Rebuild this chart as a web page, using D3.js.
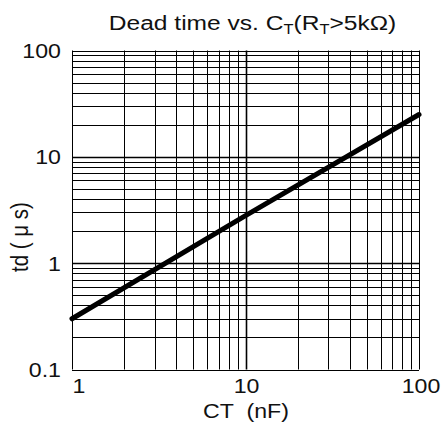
<!DOCTYPE html>
<html><head><meta charset="utf-8">
<script src="https://cdn.jsdelivr.net/npm/d3@7"></script>
<style>body{margin:0;background:#fff}svg{display:block;font-family:"Liberation Sans",Arial,sans-serif}</style>
</head><body>
<svg id="c" width="442" height="428"></svg>
<script>
const ctValues = [1, 10, 100];          // CT (nF)
const tdValues = [0.3, 2.8, 25];        // td (µs)
const xTicks = [1, 10, 100];
const yTicks = [0.1, 1, 10, 100];
const xTickLabels = ["1", "10", "100"];
const yTickLabels = ["0.1", "1", "10", "100"];

const svg = d3.select("#c");
const m = {l:72, r:419, t:50.5, b:369.5};
const x = d3.scaleLog().domain([1,100]).range([m.l, m.r]);
const y = d3.scaleLog().domain([0.1,100]).range([m.b, m.t]);
const SX = 1.13, FS = 20.5;

const xg = [];
for (let d=1; d<100; d*=10) for (let k=1;k<=10;k++) xg.push(d*k);
const yg = [];
for (let d=0.1; d<99; d*=10) for (let k=1;k<=10;k++) yg.push(+(d*k).toPrecision(3));
const xgu = Array.from(new Set(xg));
const ygu = Array.from(new Set(yg));

const g = svg.append("g");
g.selectAll("line.v").data(xgu).join("line")
  .attr("x1", d=>Math.round(x(d))+0.5).attr("x2", d=>Math.round(x(d))+0.5)
  .attr("y1", m.t).attr("y2", m.b)
  .attr("stroke","#000").attr("stroke-width", d=> (d===10)?1.6:1);
g.selectAll("line.h").data(ygu).join("line")
  .attr("y1", d=>Math.round(y(d))+0.5).attr("y2", d=>Math.round(y(d))+0.5)
  .attr("x1", m.l).attr("x2", m.r)
  .attr("stroke","#000").attr("stroke-width", d=> (d===1||d===10)?1.6:1);

const pts = ctValues.map((c,i)=>[c, tdValues[i]]);
svg.append("path").datum(pts)
  .attr("d", d3.line().x(d=>x(d[0])).y(d=>y(d[1])))
  .attr("fill","none").attr("stroke","#000").attr("stroke-width",5).attr("stroke-linecap","round");

function label(px, py, txt, anchor, rot) {
  return svg.append("text")
    .attr("transform", `translate(${px},${py})` + (rot?` rotate(${rot})`:``) + (rot?` scale(1,${SX})`:` scale(${SX},1)`))
    .attr("text-anchor", anchor).attr("font-size", FS).attr("fill","#111")
    .attr("xml:space","preserve").text(txt);
}

yTicks.forEach((d,i)=> label(61, y(d)+7.5, yTickLabels[i], "end"));
xTicks.forEach((d,i)=> label(x(d) + (i===0?7: i===2?2:1), 393, xTickLabels[i], "middle"));

label(246, 418, "CT  (nF)", "middle");
label(28, 237, "td ( μ s)", "middle", -90);

// title
const t = svg.append("text").attr("transform","translate(252.5,30) scale(1.17,1)")
  .attr("text-anchor","middle").attr("font-size",21).attr("fill","#111");
t.append("tspan").text("Dead time vs. C");
t.append("tspan").attr("font-size",14).attr("dy",4).text("T");
t.append("tspan").attr("dy",-4).text("(R");
t.append("tspan").attr("font-size",14).attr("dy",4).text("T");
t.append("tspan").attr("dy",-4).text(">5kΩ)");
</script>
</body></html>
